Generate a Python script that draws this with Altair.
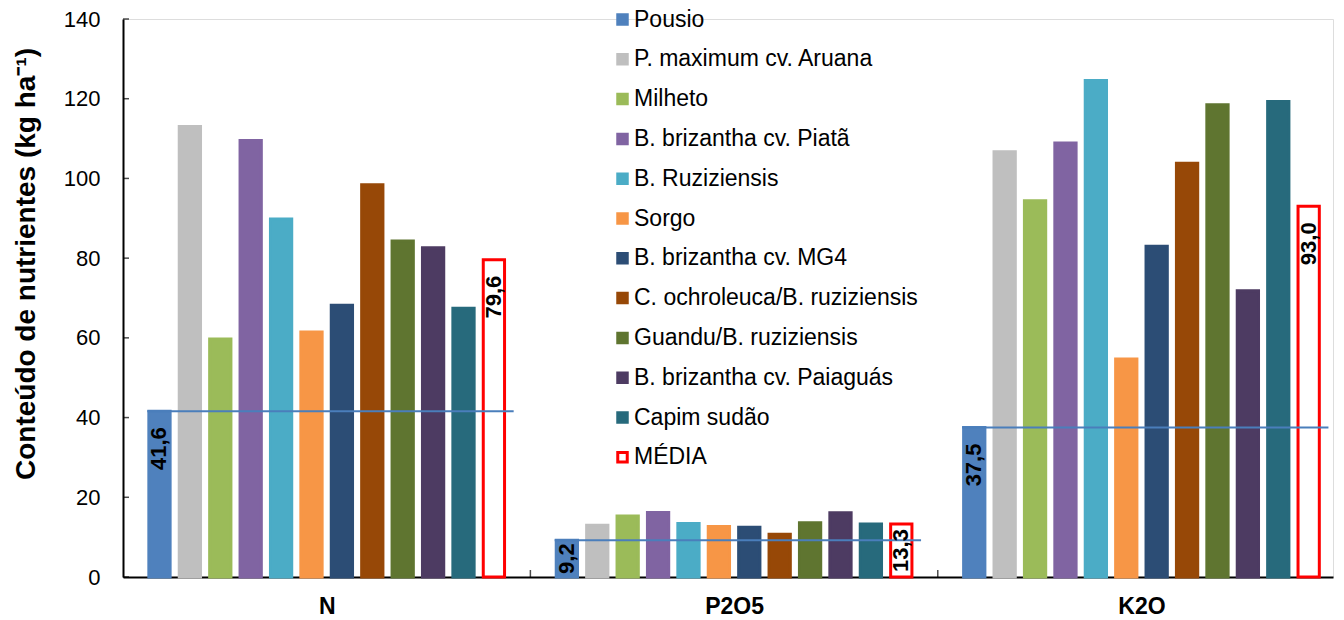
import json
import altair as alt
import pandas as pd

# ---------------- data ----------------
groups = ["N", "P2O5", "K2O"]
treatments = [
    "Pousio",
    "P. maximum cv. Aruana",
    "Milheto",
    "B. brizantha cv. Piatã",
    "B. Ruziziensis",
    "Sorgo",
    "B. brizantha cv. MG4",
    "C. ochroleuca/B. ruziziensis",
    "Guandu/B. ruziziensis",
    "B. brizantha cv. Paiaguás",
    "Capim sudão",
    "MÉDIA",
]
n_values = [41.6, 113.0, 59.7, 109.5, 89.8, 61.5, 68.2, 98.4, 84.3, 82.6, 67.4, 79.6]
p_values = [9.2, 13.0, 15.3, 16.2, 13.4, 12.7, 12.5, 10.7, 13.6, 16.1, 13.3, 13.3]
k_values = [37.5, 106.7, 94.4, 108.9, 124.6, 54.7, 83.0, 103.8, 118.5, 71.8, 119.3, 93.0]
y_ticks = [0, 20, 40, 60, 80, 100, 120, 140]
reference = "Pousio"
mean_name = "MÉDIA"
y_title = "Conteúdo de nutrientes (kg ha⁻¹)"

# ---------------- styles ----------------
fill_colors = ["#4F81BD", "#BFBFBF", "#9BBB59", "#8064A2", "#4BACC6", "#F79646",
               "#2C4D75", "#974807", "#5F7530", "#4D3B62", "#276A7C", "#FFFFFF"]
stroke_colors = fill_colors[:-1] + ["#FF0000"]
FONT = "Liberation Sans"
W, H = 1210, 558
SPAN = 13.4      # width of one category group in band units
OUTER = 0.8      # outer padding in band units
BAND = 0.8       # bar band width
INSET = 0.05     # geometry inset to make room for 3px stroke

values_by_group = dict(zip(groups, [n_values, p_values, k_values]))

rows = []
for gi, g in enumerate(groups):
    for ti, t in enumerate(treatments):
        start = gi * SPAN + OUTER + ti
        v = values_by_group[g][ti]
        rows.append(dict(group=g, treatment=t, value=v,
                         x0=start + INSET, x1=start + BAND - INSET,
                         xc=start + BAND / 2,
                         label=f"{v:.1f}".replace(".", ",")))
bars = pd.DataFrame(rows)

lines = pd.DataFrame([
    dict(group=g,
         value=values_by_group[g][treatments.index(reference)],
         xs=gi * SPAN + OUTER,
         xe=gi * SPAN + OUTER + len(treatments) - 1 + BAND + 0.25)
    for gi, g in enumerate(groups)
])

labels = bars[bars["treatment"].isin([reference, mean_name])].copy()
labels["fits"] = labels["value"] / 140 * H > 80

centers = [gi * SPAN + SPAN / 2 for gi in range(len(groups))]
boundaries = [gi * SPAN for gi in range(1, len(groups))]
label_expr = f"{json.dumps(groups)}[round((datum.value - {SPAN / 2}) / {SPAN})]"

x_scale = alt.Scale(domain=[0, 39.8], nice=False, zero=False)
y_scale = alt.Scale(domain=[0, 140], nice=False)

legend = alt.Legend(
    title=None, orient="none", legendX=488, legendY=-11,
    labelFontSize=23, labelFont=FONT, labelColor="#000000",
    symbolType="square", symbolSize=90, symbolStrokeWidth=3,
    rowPadding=15.8, labelOffset=0, padding=0, labelLimit=500,
)

bar_layer = alt.Chart(bars).mark_bar(strokeWidth=3).encode(
    x=alt.X("x0:Q", scale=x_scale, title=None,
            axis=alt.Axis(values=centers, labelExpr=label_expr, ticks=False,
                          labelPadding=18, labelFontSize=23, labelFontWeight="bold",
                          labelFont=FONT, labelColor="#000000", domainWidth=2,
                          domainColor="#000000", grid=False)),
    x2="x1:Q",
    y=alt.Y("value:Q", scale=y_scale, title=y_title,
            axis=alt.Axis(values=y_ticks, ticks=False, grid=False, labelFontSize=22,
                          labelFont=FONT, labelColor="#000000", labelPadding=23,
                          domainWidth=2, domainColor="#000000",
                          titleFontSize=28, titleFontWeight="bold",
                          titleFont=FONT, titleColor="#000000", titleAngle=270,
                          titleX=-89, titleY=244.5, titleBaseline="alphabetic",
                          titleAlign="center")),
    y2=alt.Y2(datum=0),
    color=alt.Color("treatment:N", scale=alt.Scale(domain=treatments, range=fill_colors),
                    legend=legend),
    stroke=alt.Stroke("treatment:N", scale=alt.Scale(domain=treatments, range=stroke_colors),
                      legend=legend),
)

rule_layer = alt.Chart(lines).mark_rule(color="#4A7EBB", strokeWidth=2).encode(
    x=alt.X("xs:Q", scale=x_scale, title=None),
    x2="xe:Q",
    y=alt.Y("value:Q", scale=y_scale, title=y_title),
)

text_tall = alt.Chart(labels).transform_filter("datum.fits").mark_text(
    angle=270, align="right", baseline="middle", dx=-16,
    fontSize=22, fontWeight="bold", font=FONT, color="#000000",
).encode(
    x=alt.X("xc:Q", scale=x_scale, title=None),
    y=alt.Y("value:Q", scale=y_scale, title=y_title),
    text="label:N",
)

text_short = alt.Chart(labels).transform_filter("!datum.fits").transform_calculate(
    ymid="datum.value / 2"
).mark_text(
    angle=270, align="center", baseline="middle",
    fontSize=22, fontWeight="bold", font=FONT, color="#000000",
).encode(
    x=alt.X("xc:Q", scale=x_scale, title=None),
    y=alt.Y("ymid:Q", scale=y_scale, title=y_title),
    text="label:N",
)

ytick_layer = alt.Chart(pd.DataFrame({"v": y_ticks})).mark_tick(
    orient="horizontal", size=6, thickness=1.5, color="#000000"
).encode(y=alt.Y("v:Q", scale=y_scale, title=y_title), x=alt.value(3))

xtick_layer = alt.Chart(pd.DataFrame({"b": boundaries})).mark_tick(
    orient="vertical", size=7, thickness=1.5, color="#000000"
).encode(x=alt.X("b:Q", scale=x_scale, title=None), y=alt.value(H - 3.5))

chart = alt.layer(
    bar_layer, rule_layer, text_tall, text_short, ytick_layer, xtick_layer
).properties(
    width=W, height=H,
    autosize=alt.AutoSizeParams(type="none"),
    padding={"left": 115, "top": 11, "right": 3, "bottom": 40},
).configure_view(stroke=None).configure(background="#FFFFFF")

chart.save("out.html", embed_options={"renderer": "svg", "actions": False})
